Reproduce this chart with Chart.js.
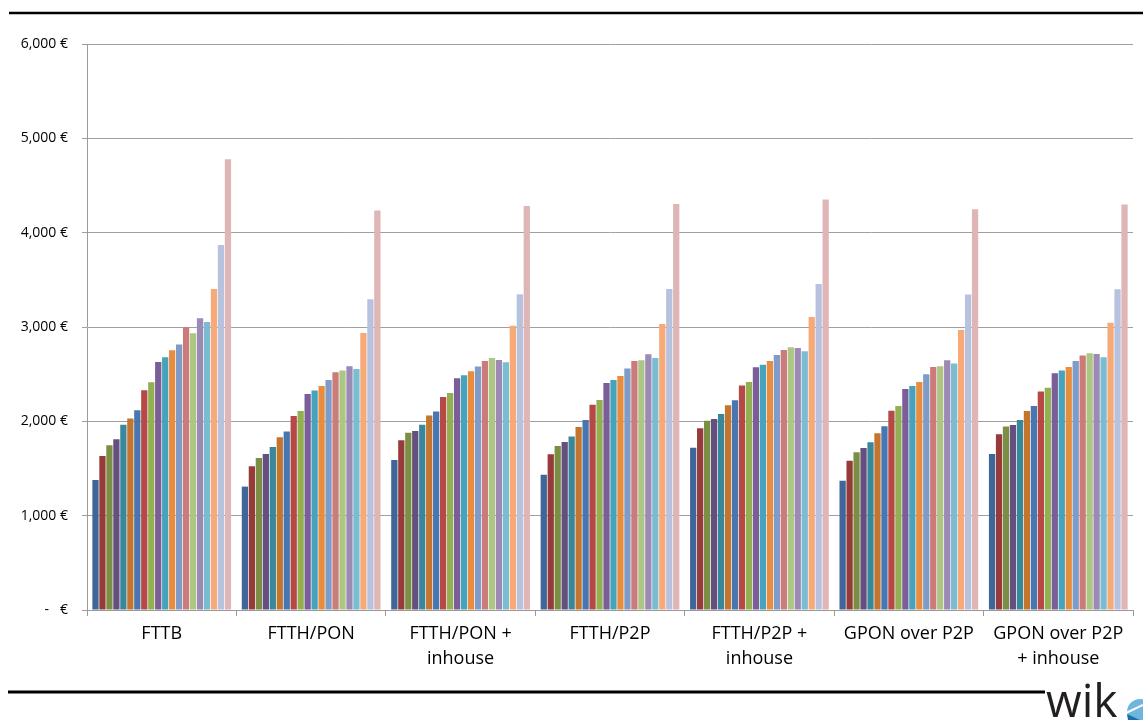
<!DOCTYPE html>
<html>
<head>
<meta charset="utf-8">
<script src="https://cdn.jsdelivr.net/npm/chart.js@4.4.1/dist/chart.umd.min.js"></script>
<style>
  html, body { margin: 0; padding: 0; background: #ffffff; }
  #wrap { width: 1143px; height: 720px; position: relative; }
</style>
</head>
<body>
<div id="wrap"><canvas id="c" width="1143" height="720"></canvas></div>
<script>
// Categories (x axis)
const categories = [
  ["FTTB"],
  ["FTTH/PON"],
  ["FTTH/PON +", "inhouse"],
  ["FTTH/P2P"],
  ["FTTH/P2P +", "inhouse"],
  ["GPON over P2P"],
  ["GPON over P2P", "+ inhouse"]
];

// Values per category (20 scenario bars each, in €)
const fttb          = [1378, 1633, 1746, 1810, 1965, 2029, 2118, 2330, 2415, 2630, 2680, 2754, 2814, 2998, 2934, 3093, 3054, 3404, 3868, 4779];
const ftthPon       = [1308, 1524, 1612, 1654, 1729, 1831, 1891, 2057, 2110, 2291, 2326, 2375, 2439, 2521, 2538, 2584, 2556, 2937, 3295, 4235];
const ftthPonIn     = [1591, 1799, 1880, 1898, 1965, 2061, 2103, 2259, 2301, 2457, 2489, 2531, 2580, 2640, 2672, 2651, 2627, 3012, 3348, 4284];
const ftthP2p       = [1435, 1651, 1739, 1782, 1838, 1941, 2015, 2177, 2227, 2407, 2439, 2481, 2559, 2640, 2648, 2711, 2672, 3033, 3404, 4305];
const ftthP2pIn     = [1721, 1927, 2007, 2025, 2078, 2171, 2224, 2379, 2418, 2573, 2601, 2640, 2704, 2757, 2786, 2778, 2743, 3107, 3457, 4351];
const gponP2p       = [1371, 1583, 1672, 1718, 1778, 1874, 1948, 2113, 2163, 2344, 2375, 2418, 2499, 2577, 2584, 2648, 2612, 2969, 3344, 4249];
const gponP2pIn     = [1654, 1863, 1944, 1962, 2015, 2110, 2163, 2315, 2357, 2510, 2538, 2577, 2640, 2697, 2722, 2715, 2680, 3044, 3400, 4298];

// Y axis ticks
const yTicks = [0, 1000, 2000, 3000, 4000, 5000, 6000];

// Series colours
const seriesColors = [
  "#3F6698", "#973B3A", "#7B8F44", "#644F7E", "#39879B",
  "#C3742F", "#4776B1", "#B64946", "#92AF52", "#7A5E97",
  "#47A3BB", "#E88C3F", "#7F9BC8", "#CB7B7A", "#AEC684",
  "#9C8AB5", "#7ABCD1", "#F7AA78", "#B7C3DE", "#DFB5B6"
];

const table = [fttb, ftthPon, ftthPonIn, ftthP2p, ftthP2pIn, gponP2p, gponP2pIn];
const datasets = seriesColors.map((col, i) => ({
  label: "Series " + (i + 1),
  data: table.map(row => row[i]),
  backgroundColor: col,
  borderWidth: 0,
  categoryPercentage: 0.933,
  barPercentage: 0.9
}));

const decor = {
  id: "decor",
  afterDraw(chart) {
    const ctx = chart.ctx;
    ctx.save();
    ctx.strokeStyle = "#000";
    ctx.lineWidth = 2.5;
    ctx.beginPath(); ctx.moveTo(9, 13); ctx.lineTo(1143, 13); ctx.stroke();
    ctx.lineWidth = 3;
    ctx.beginPath(); ctx.moveTo(8, 692); ctx.lineTo(1045, 692); ctx.stroke();
    // logo text
    ctx.fillStyle = "#231f20";
    ctx.font = "46px 'Open Sans'";
    ctx.textBaseline = "alphabetic";
    ctx.textAlign = "left";
    ctx.fillText("wik", 1046, 717);
    // logo icon
    ctx.fillStyle = "#6fb6de";
    ctx.beginPath(); ctx.arc(1140, 712, 13, 0, Math.PI * 2); ctx.fill();
    ctx.fillStyle = "#1f6fa5";
    ctx.beginPath(); ctx.moveTo(1127, 714); ctx.lineTo(1140, 720); ctx.lineTo(1128, 720); ctx.closePath(); ctx.fill();
    ctx.strokeStyle = "#fff"; ctx.lineWidth = 2;
    ctx.beginPath(); ctx.moveTo(1126, 713); ctx.lineTo(1143, 705); ctx.stroke();
    ctx.restore();
  }
};

new Chart(document.getElementById("c"), {
  type: "bar",
  data: { labels: categories, datasets },
  options: {
    responsive: false,
    animation: false,
    devicePixelRatio: 1,
    layout: { padding: { top: 44, right: 10, left: 0, bottom: 0 } },
    plugins: { legend: { display: false }, tooltip: { enabled: false } },
    scales: {
      x: {
        offset: true,
        grid: { display: true, drawOnChartArea: false, drawTicks: true, tickLength: 6, color: "#9a9a9a", offset: true },
        border: { display: true, color: "#9a9a9a", width: 1 },
        ticks: {
          color: "#000", padding: 5, maxRotation: 0, autoSkip: false,
          font: { family: "'Open Sans'", size: 18, lineHeight: 1.4 }
        },
        afterFit(scale) { scale.height = 110; }
      },
      y: {
        min: 0, max: 6000,
        afterBuildTicks(scale) { scale.ticks = yTicks.map(v => ({ value: v })); },
        grid: { color: "#a0a0a0", tickLength: 5, lineWidth: 1 },
        border: { display: true, color: "#9a9a9a", width: 1 },
        ticks: {
          color: "#000", padding: 14,
          font: { family: "'Open Sans'", size: 14 },
          callback(v) { return v === 0 ? "-   €" : v.toLocaleString("en-US") + " €"; }
        },
        afterFit(scale) { scale.width = 87; }
      }
    }
  },
  plugins: [decor]
});
</script>
</body>
</html>
